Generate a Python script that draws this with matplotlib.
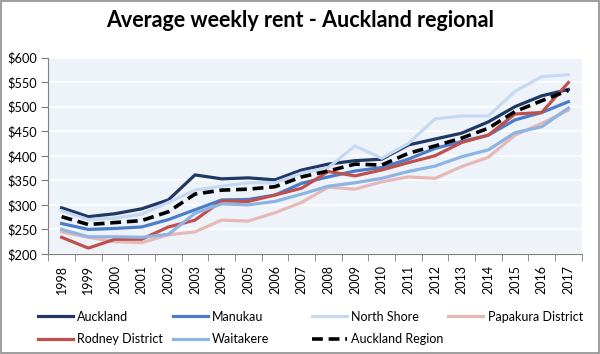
import matplotlib.pyplot as plt
from matplotlib.patches import Rectangle

years = [str(y) for y in range(1998, 2018)]

auckland = [294, 276, 282, 292, 310, 361, 353, 355, 351, 371, 383, 390, 393, 422, 434, 446, 469, 500, 522, 535]
manukau = [262, 250, 252, 255, 270, 290, 310, 311, 320, 344, 357, 369, 376, 393, 415, 429, 442, 473, 488, 510]
north_shore = [288, 270, 273, 281, 305, 330, 338, 345, 345, 365, 376, 420, 395, 425, 475, 481, 481, 531, 561, 565]
papakura = [245, 234, 225, 223, 239, 245, 269, 267, 284, 305, 336, 332, 347, 357, 354, 378, 397, 442, 466, 493]
rodney = [234, 212, 230, 230, 255, 269, 308, 307, 320, 334, 368, 359, 371, 386, 400, 427, 442, 485, 488, 549]
waitakere = [250, 235, 235, 234, 240, 283, 302, 300, 307, 322, 338, 345, 354, 368, 379, 398, 412, 447, 459, 497]
region = [276, 260, 264, 268, 286, 322, 330, 332, 337, 357, 369, 383, 381, 405, 420, 436, 456, 490, 512, 533]

plt.rcParams['font.family'] = ['Lato', 'DejaVu Sans']


def main():
    fig = plt.figure(figsize=(6, 3.54), dpi=100)
    ax = fig.add_axes([0.0805, 0.2825, 0.889, 0.555])
    ax.set_facecolor('#eef3fa')

    x = list(range(len(years)))
    lw = 2.3
    h_auck, = ax.plot(x, auckland, color='#1f3864', lw=lw, label='Auckland')
    h_manu, = ax.plot(x, manukau, color='#4a7ec8', lw=lw, label='Manukau')
    h_ns, = ax.plot(x, north_shore, color='#c6d9f0', lw=lw, label='North Shore')
    h_papa, = ax.plot(x, papakura, color='#e6b9b8', lw=lw, label='Papakura District')
    h_rod, = ax.plot(x, rodney, color='#c0504d', lw=lw, label='Rodney District')
    h_wait, = ax.plot(x, waitakere, color='#8db4e2', lw=lw, label='Waitakere')
    h_reg, = ax.plot(x, region, color='black', lw=lw + 0.3, ls=(0, (3, 1.6)), label='Auckland Region')

    ax.set_ylim(200, 600)
    ax.set_xlim(-0.45, 19.45)
    ax.set_yticks(range(200, 601, 50))
    ax.set_yticklabels(['$%d' % v for v in range(200, 601, 50)], fontsize=9.2)
    ax.set_xticks(x)
    ax.set_xticklabels(years, rotation=90, fontsize=9)
    ax.set_xticks([i + 0.5 for i in range(-1, 20)], minor=True)
    ax.tick_params(axis='x', which='major', length=0, pad=8)
    ax.tick_params(axis='x', which='minor', length=5, color='#7f7f7f')
    ax.tick_params(axis='y', length=5, color='#7f7f7f', pad=3)
    ax.grid(axis='y', color='white', lw=1.2)
    ax.set_axisbelow(True)
    for s in ['top', 'right']:
        ax.spines[s].set_visible(False)
    for s in ['left', 'bottom']:
        ax.spines[s].set_color('#7f7f7f')

    fig.text(0.5, 0.943, 'Average weekly rent - Auckland regional', ha='center', va='center',
             fontsize=15.5, fontweight='bold')

    cols = [[h_auck, h_rod], [h_manu, h_wait], [h_ns, h_reg], [h_papa]]
    xs = [0.063, 0.288, 0.52, 0.747]
    for hs, xp in zip(cols, xs):
        fig.legend(handles=hs, loc='upper left', bbox_to_anchor=(xp, 0.122), frameon=False,
                   fontsize=9, handlelength=2.8, handletextpad=0.35, labelspacing=0.85,
                   borderaxespad=0, borderpad=0)

    fig.patches.append(Rectangle((0.001, 0.002), 0.997, 0.996, transform=fig.transFigure,
                                 fill=False, edgecolor='#8c8c8c', lw=1.2))

    fig.savefig('out.png', dpi=100)


if __name__ == '__main__':
    main()
